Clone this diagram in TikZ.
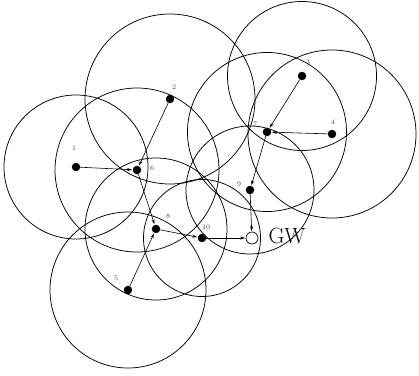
\documentclass[tikz,border=0pt]{standalone}
\usetikzlibrary{arrows.meta}
\begin{document}
\begin{tikzpicture}[x=1pt,y=-1pt,
  dot/.style={circle,fill=black,inner sep=0pt,minimum size=8.5pt},
  gwdot/.style={circle,draw=black,fill=white,line width=0.7pt,inner sep=0pt,minimum size=12pt},
  rangecirc/.style={draw=black,line width=0.75pt},
  lbl/.style={font=\fontsize{7}{8}\selectfont,text=black!75},
  link/.style={draw=black,line width=0.6pt,-{Stealth[length=5pt,width=3pt]},shorten >=0.5pt}]
\useasboundingbox (0,0) rectangle (419,375);
% nodes
\node[dot] (n1) at (76,167) {};
\node[dot] (n2) at (170,99) {};
\node[dot] (n3) at (302,76) {};
\node[dot] (n4) at (332,134) {};
\node[dot] (n5) at (128,290) {};
\node[dot] (n6) at (137,170) {};
\node[dot] (n7) at (267,132) {};
\node[dot] (n8) at (156,229) {};
\node[dot] (n9) at (250,190) {};
\node[dot] (n10) at (202,238) {};
\node[gwdot] (gw) at (252,238) {};
% ranges
\draw[rangecirc] (n1) circle[radius=72];
\draw[rangecirc] (n2) circle[radius=85];
\draw[rangecirc] (n3) circle[radius=74.5];
\draw[rangecirc] (n4) circle[radius=84];
\draw[rangecirc] (n5) circle[radius=78];
\draw[rangecirc] (n6) circle[radius=82];
\draw[rangecirc] (n7) circle[radius=79.5];
\draw[rangecirc] (n8) circle[radius=71];
\draw[rangecirc] (n9) circle[radius=64];
\draw[rangecirc] (n10) circle[radius=58.5];
% labels
\node[lbl] (l1) at (74,148) {1};
\node[lbl] (l2) at (174,87) {2};
\node[lbl] (l3) at (308,62) {3};
\node[lbl] (l4) at (333,122) {4};
\node[lbl] (l5) at (116,278) {5};
\node[lbl] (l6) at (152,168) {6};
\node[lbl] (l7) at (255,124) {7};
\node[lbl] (l8) at (168,216) {8};
\node[lbl] (l9) at (239,184) {9};
\node[lbl] (l10) at (206,227) {10};
\node[font=\fontsize{22}{24}\selectfont] (gwl) at (287,236) {GW};
% links
\draw[link] (n1) -- (n6);
\draw[link] (n2) -- (n6);
\draw[link] (n6) -- (n8);
\draw[link] (n5) -- (n8);
\draw[link] (n8) -- (n10);
\draw[link] (n10) -- (gw);
\draw[link] (n9) -- (gw);
\draw[link] (n3) -- (n7);
\draw[link] (n4) -- (n7);
\draw[link] (n7) -- (n9);
\end{tikzpicture}
\end{document}
